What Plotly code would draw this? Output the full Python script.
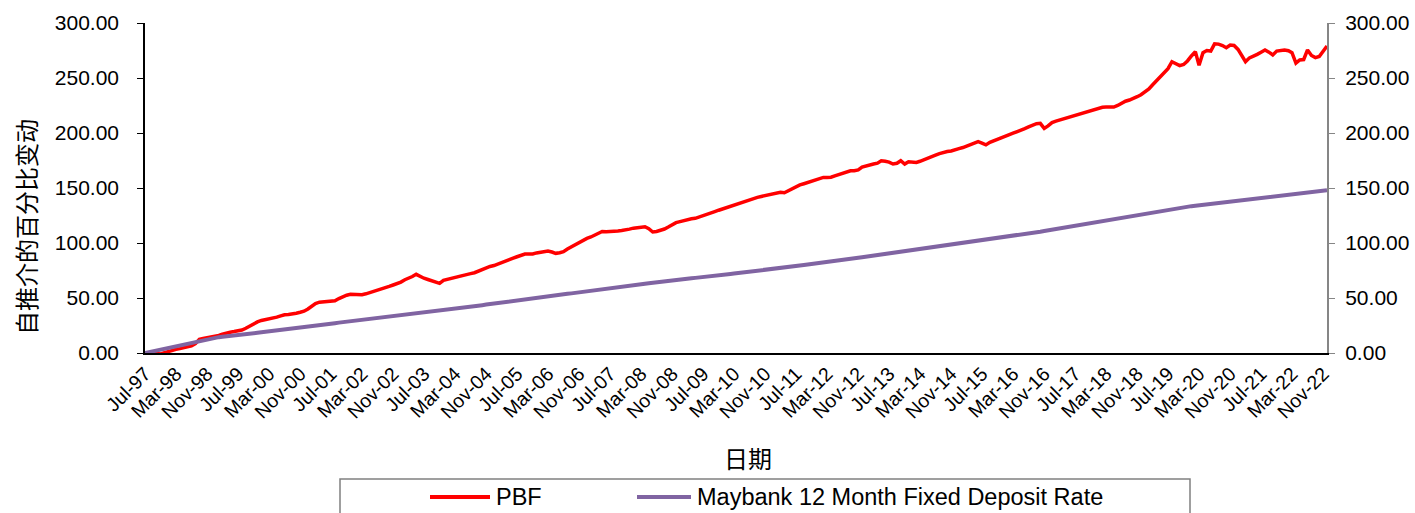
import pandas as pd
import plotly.graph_objects as go

# Monthly categories Jul-97 .. Dec-22
months = pd.date_range("1997-07-01", periods=306, freq="MS")

pbf = [
    # 1997 Jul-Dec
    0.0, 0.2, 0.1, -0.5, -0.8, 0.3,
    # 1998
    1.5, 2.5, 3.3, 4.0, 4.6, 5.2, 6.5, 8.5, 12.4, 13.3, 14.0, 14.6,
    # 1999
    15.0, 16.0, 17.2, 18.3, 18.9, 19.5, 20.2, 20.9, 22.5, 24.5, 26.5, 28.3,
    # 2000
    29.6, 30.2, 30.8, 31.5, 32.6, 33.8, 34.8, 35.0, 35.3, 36.2, 37.0, 38.0,
    # 2001
    40.0, 43.0, 45.0, 46.2, 46.6, 46.7, 46.8, 47.5, 49.5, 51.2, 52.5, 53.3,
    # 2002
    53.0, 52.6, 53.0, 53.8, 54.8, 55.8, 56.9, 58.0, 59.2, 60.5, 61.8, 63.0,
    # 2003
    64.5, 66.6, 67.8, 69.5, 71.5, 69.5, 68.0, 66.8, 65.5, 64.2, 63.3, 66.0,
    # 2004
    67.0, 68.0, 69.0, 70.0, 70.8, 71.6, 72.2, 73.0, 74.5, 76.0, 77.5, 78.7,
    # 2005
    79.5, 81.0, 82.5, 84.0, 85.2, 86.2, 87.5, 89.0, 90.0, 90.0, 90.0, 91.0,
    # 2006
    91.6, 92.1, 92.7, 91.8, 90.6, 91.2, 92.1, 94.5, 96.5, 98.8, 100.8, 102.8,
    # 2007
    104.2, 105.5, 107.0, 109.0, 110.5, 110.3, 110.3, 110.6, 111.0, 111.4, 111.8, 112.6,
    # 2008
    113.5, 114.2, 114.6, 114.8, 113.0, 110.0, 110.5, 111.5, 112.7, 114.5, 116.5, 118.5,
    # 2009
    119.4, 120.5, 121.5, 122.0, 122.4, 123.5, 125.0, 126.4, 127.5, 128.5, 129.8, 131.0,
    # 2010
    132.0, 133.2, 134.3, 135.2, 136.5, 138.0, 139.5, 140.6, 141.5, 142.3, 143.2, 144.0,
    # 2011
    144.8, 145.8, 146.2, 145.7, 147.5, 150.0, 151.5, 152.8, 153.9, 155.0, 156.4, 157.8,
    # 2012
    159.0, 159.6, 159.6, 159.8, 161.0, 162.2, 163.5, 164.8, 165.7, 165.7, 166.5, 169.0,
    # 2013
    170.2, 171.0, 171.8, 172.6, 174.8, 174.3, 173.5, 171.8, 172.5, 174.8, 171.8, 173.9,
    # 2014
    173.6, 173.3, 174.3, 175.5, 176.7, 178.0, 179.8, 181.2, 182.6, 183.2, 183.6, 185.0,
    # 2015
    185.8, 186.8, 188.2, 189.6, 191.2, 192.1, 190.8, 189.2, 191.5, 192.8, 193.8, 195.0,
    # 2016
    196.5, 198.5, 199.8, 201.0, 202.5, 204.0, 205.5, 207.2, 208.5, 208.8, 204.2, 206.5,
    # 2017
    209.5, 210.8, 211.8, 212.7, 213.8, 215.0, 216.2, 217.5, 218.6, 219.2, 220.0, 221.2,
    # 2018
    222.3, 223.4, 223.6, 223.4, 223.6, 225.0, 227.2, 228.9, 230.0, 231.2, 233.0, 234.8,
    # 2019
    237.5, 240.0, 243.6, 247.5, 251.0, 255.0, 258.5, 264.8, 262.5, 261.2, 262.3, 265.5,
    # 2020
    270.0, 274.0, 261.5, 273.0, 275.0, 274.5, 281.0, 280.8, 279.5, 277.5, 280.0, 279.6,
    # 2021
    276.0, 270.0, 264.8, 268.3, 269.5, 271.5, 273.5, 275.5, 273.5, 271.0, 274.5, 275.2,
    # 2022
    275.5, 274.8, 273.0, 263.5, 266.4, 266.8, 275.5, 270.5, 268.5, 269.6, 274.5, 279.1,
]

deposit = [
    # 1997 Jul-Dec
    0.0, 0.8, 1.6, 2.4, 3.2, 4.0,
    # 1998
    4.9, 5.7, 6.5, 7.3, 8.1, 8.9, 9.7, 10.5, 11.3, 12.1, 12.8, 13.4,
    # 1999
    13.9, 14.4, 14.8, 15.3, 15.7, 16.1, 16.5, 16.9, 17.3, 17.6, 18.0, 18.4,
    # 2000
    18.8, 19.2, 19.5, 19.9, 20.4, 20.8, 21.2, 21.6, 22.1, 22.5, 23.0, 23.4,
    # 2001
    23.9, 24.3, 24.8, 25.3, 25.7, 26.2, 26.7, 27.1, 27.6, 28.0, 28.5, 28.9,
    # 2002
    29.3, 29.8, 30.2, 30.6, 31.0, 31.4, 31.8, 32.3, 32.7, 33.1, 33.5, 33.9,
    # 2003
    34.3, 34.8, 35.2, 35.6, 36.0, 36.4, 36.8, 37.3, 37.7, 38.1, 38.5, 38.9,
    # 2004
    39.4, 39.8, 40.3, 40.7, 41.2, 41.7, 42.1, 42.6, 43.1, 43.5, 44.0, 44.5,
    # 2005
    44.9, 45.4, 45.9, 46.3, 46.8, 47.3, 47.7, 48.2, 48.6, 49.1, 49.6, 50.1,
    # 2006
    50.5, 51.0, 51.5, 51.9, 52.4, 52.8, 53.3, 53.8, 54.2, 54.7, 55.1, 55.6,
    # 2007
    56.0, 56.5, 57.0, 57.4, 57.9, 58.4, 58.8, 59.3, 59.7, 60.2, 60.7, 61.1,
    # 2008
    61.6, 62.0, 62.5, 63.0, 63.4, 63.9, 64.3, 64.8, 65.2, 65.7, 66.1, 66.5,
    # 2009
    66.8, 67.1, 67.5, 67.9, 68.3, 68.6, 69.0, 69.4, 69.8, 70.2, 70.6, 71.0,
    # 2010
    71.4, 71.8, 72.2, 72.6, 73.0, 73.3, 73.8, 74.2, 74.7, 75.1, 75.6, 76.0,
    # 2011
    76.4, 76.9, 77.3, 77.8, 78.2, 78.7, 79.1, 79.6, 80.0, 80.5, 80.9, 81.4,
    # 2012
    81.8, 82.3, 82.8, 83.2, 83.7, 84.2, 84.6, 85.1, 85.6, 86.0, 86.5, 87.0,
    # 2013
    87.5, 88.0, 88.5, 89.0, 89.5, 90.0, 90.5, 91.0, 91.5, 92.0, 92.5, 93.0,
    # 2014
    93.5, 94.0, 94.5, 95.0, 95.5, 96.0, 96.5, 97.0, 97.5, 98.0, 98.4, 98.9,
    # 2015
    99.4, 99.8, 100.3, 100.8, 101.3, 101.7, 102.2, 102.7, 103.1, 103.6, 104.1, 104.5,
    # 2016
    105.1, 105.7, 106.3, 106.8, 107.4, 108.0, 108.6, 109.2, 109.7, 110.3, 110.9, 111.5,
    # 2017
    112.0, 112.6, 113.2, 113.8, 114.3, 114.9, 115.5, 116.1, 116.8, 117.4, 118.1, 118.7,
    # 2018
    119.3, 120.0, 120.6, 121.2, 121.9, 122.5, 123.2, 123.8, 124.4, 125.1, 125.7, 126.4,
    # 2019
    127.0, 127.5, 128.1, 128.6, 129.2, 129.7, 130.3, 130.8, 131.3, 131.9, 132.4, 133.0,
    # 2020
    133.5, 133.9, 134.3, 134.7, 135.1, 135.5, 135.9, 136.3, 136.7, 137.1, 137.5, 137.9,
    # 2021
    138.3, 138.7, 139.1, 139.5, 139.9, 140.4, 140.8, 141.2, 141.6, 142.1, 142.5, 142.9,
    # 2022
    143.4, 143.8, 144.2, 144.6, 145.1, 145.5, 145.9, 146.3, 146.8, 147.2, 147.6, 148.0,
]

series_names = ["PBF", "Maybank 12 Month Fixed Deposit Rate"]
series_colors = ["#FF0000", "#8064A2"]
y_title = "自推介的百分比变动"
x_title = "日期"
y_ticks = [0, 50, 100, 150, 200, 250, 300]

FONT = "Liberation Sans, Arial, sans-serif"
CJK = "Noto Sans CJK SC, sans-serif"

# plot-area geometry in pixels (for paper-coordinate helpers)
PL, PR, PT, PB = 145, 1327, 23, 353
PW, PH = PR - PL, PB - PT


def px(x):
    return (x - PL) / PW


def py(y):
    return (PB - y) / PH


fig = go.Figure()
fig.add_trace(go.Scatter(x=months, y=pbf, mode="lines", name=series_names[0],
                         line=dict(color=series_colors[0], width=3.5),
                         showlegend=False))
fig.add_trace(go.Scatter(x=months, y=deposit, mode="lines", name=series_names[1],
                         line=dict(color=series_colors[1], width=4),
                         showlegend=False))
# carrier for the secondary (right) axis
fig.add_trace(go.Scatter(x=months, y=deposit, mode="lines", yaxis="y2",
                         line=dict(width=0, color="rgba(0,0,0,0)"),
                         showlegend=False, hoverinfo="skip"))

# legend drawn as keys + labels inside a framed box
legend_keys = [(430, 490, 497), (637, 691, 497)]
shapes = [
    dict(type="rect", xref="paper", yref="paper",
         x0=px(340), x1=px(1190), y0=py(479), y1=py(530),
         line=dict(color="#808080", width=1.5), fillcolor="rgba(0,0,0,0)"),
]
annotations = [
    dict(text=y_title, xref="paper", yref="paper",
         x=px(25), y=py(227), textangle=-90,
         showarrow=False, font=dict(family=CJK, size=24),
         xanchor="center", yanchor="middle"),
    dict(text=x_title, xref="paper", yref="paper",
         x=px(748), y=py(457),
         showarrow=False, font=dict(family=CJK, size=24),
         xanchor="center", yanchor="middle"),
]
for (x0, x1, yk), name, color in zip(legend_keys, series_names, series_colors):
    shapes.append(dict(type="line", xref="paper", yref="paper",
                       x0=px(x0), x1=px(x1), y0=py(yk), y1=py(yk),
                       line=dict(color=color, width=4)))
    annotations.append(dict(text=name, xref="paper", yref="paper",
                            x=px(x1 + 4), y=py(yk), xanchor="left",
                            yanchor="middle", showarrow=False,
                            font=dict(family=FONT, size=23.5)))

fig.update_layout(
    width=1415, height=513,
    margin=dict(l=PL, r=1415 - PR, t=PT, b=513 - PB),
    paper_bgcolor="white", plot_bgcolor="white",
    font=dict(family=FONT, size=20, color="black"),
    showlegend=False,
    xaxis=dict(
        range=[months[0], months[-1]],
        tick0=months[0], dtick="M8", tickformat="%b-%y",
        tickangle=-45, tickfont=dict(size=19.5),
        showline=True, linecolor="black", linewidth=1.5,
        ticks="", showgrid=False, zeroline=False, automargin=False,
    ),
    yaxis=dict(
        range=[0, 300], tickvals=y_ticks, tickformat=".2f",
        tickfont=dict(size=21),
        showline=True, linecolor="black", linewidth=1.5,
        ticks="outside", ticklen=6, tickcolor="black",
        showgrid=False, zeroline=False, ticklabelstandoff=14,
        automargin=False,
    ),
    yaxis2=dict(
        range=[0, 300], tickvals=y_ticks, tickformat=".2f",
        tickfont=dict(size=21),
        overlaying="y", side="right", anchor="x",
        showline=True, linecolor="#868686", linewidth=2,
        ticks="outside", ticklen=6, tickcolor="#868686",
        showgrid=False, zeroline=False, ticklabelstandoff=6,
        automargin=False,
    ),
    annotations=annotations,
    shapes=shapes,
)

fig.write_html(
    "out.html",
    config={"displayModeBar": False},
    post_script="document.body.style.margin='0';document.body.style.overflow='hidden';",
)
